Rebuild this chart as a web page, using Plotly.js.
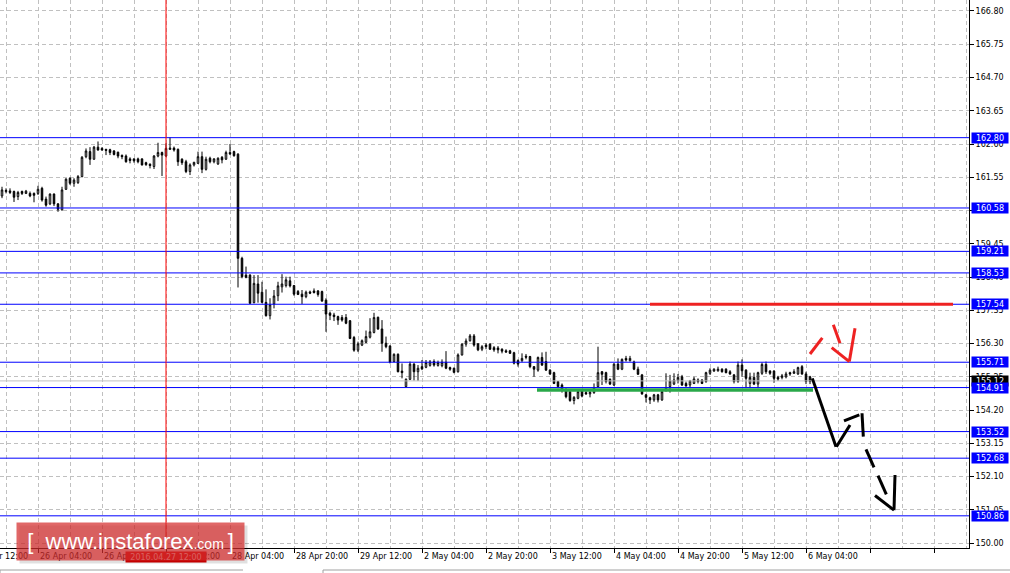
<!DOCTYPE html>
<html>
<head>
<meta charset="utf-8">
<script src="https://cdn.plot.ly/plotly-3.0.1.min.js"></script>
<style>html,body{margin:0;padding:0;background:#fff;}#chart{width:1010px;height:573px;}</style>
</head>
<body>
<div id="chart"></div>
<script>
// Hourly bars; bar offset is counted in hours from the "26 Apr 04:00" tick (weekend skipped)
const firstBar = -9;
const open = [160.96,161.10,161.12,161.10,160.94,161.10,161.04,161.04,161.04,161.04,
161.20,160.86,160.71,161.02,160.71,160.52,161.17,161.52,161.36,161.38,
161.57,162.20,162.36,162.12,162.50,162.46,162.43,162.42,162.38,162.34,
162.24,162.22,162.13,162.13,162.13,162.13,162.01,161.96,161.89,162.22,
162.33,162.22,162.43,162.47,162.43,162.12,162.04,161.73,161.94,161.99,
162.20,161.80,162.15,162.04,161.97,162.18,162.12,162.33,162.36,162.28,
158.99,158.46,158.46,157.59,158.18,157.92,157.60,157.18,157.55,157.81,
158.09,158.13,158.28,158.13,157.94,157.86,157.78,157.93,157.96,157.96,
157.94,157.67,157.26,157.20,157.15,157.12,157.12,157.02,156.49,156.09,
156.25,156.34,156.50,156.65,157.13,156.76,156.31,156.22,155.73,155.96,
155.43,154.94,155.17,155.65,155.41,155.57,155.55,155.61,155.73,155.61,
155.60,155.71,155.54,155.52,155.41,155.94,156.28,156.39,156.54,156.29,
156.12,156.25,156.28,156.17,156.16,156.12,156.07,156.07,156.01,155.76,
155.76,155.90,155.89,155.57,155.46,155.86,155.73,155.46,155.38,155.10,
154.99,154.85,154.78,154.50,154.57,154.80,154.75,154.71,154.75,154.94,
155.41,155.38,155.17,154.99,155.65,155.49,155.83,155.76,155.72,155.49,
155.31,154.68,154.59,154.52,154.68,154.52,154.83,154.94,155.02,155.13,
155.25,155.04,154.99,155.04,155.15,155.15,155.10,155.36,155.43,155.44,
155.49,155.49,155.41,155.31,155.10,155.62,155.46,155.04,155.23,155.02,
155.36,155.64,155.43,155.43,155.23,155.23,155.25,155.38,155.36,155.34,
155.57,155.34,155.25];
const high = [161.25,161.20,161.20,161.13,161.12,161.13,161.15,161.10,161.07,161.28,
161.25,160.94,161.04,161.04,160.73,161.25,161.52,161.55,161.52,161.62,
162.22,162.46,162.50,162.54,162.68,162.50,162.45,162.45,162.41,162.36,
162.27,162.27,162.18,162.15,162.17,162.15,162.04,161.99,162.25,162.64,
162.36,162.62,162.81,162.52,162.46,162.15,162.10,161.99,162.04,162.36,
162.36,162.20,162.20,162.15,162.18,162.22,162.39,162.60,162.39,162.31,
159.04,158.73,158.49,158.46,158.46,158.25,158.01,157.73,157.99,158.25,
158.49,158.41,158.41,158.15,157.99,157.99,157.97,157.97,158.04,157.99,
157.97,157.73,157.31,157.27,157.18,157.20,157.23,157.04,156.54,156.36,
156.43,156.71,157.10,157.27,157.15,157.04,156.52,156.25,155.99,155.99,
155.67,155.20,155.73,155.68,155.62,155.78,155.78,155.78,155.80,155.76,
155.80,156.06,155.57,155.54,155.99,156.31,156.46,156.60,156.60,156.31,
156.25,156.31,156.31,156.22,156.22,156.15,156.12,156.10,156.04,155.80,
155.99,155.97,155.91,155.59,155.89,156.02,156.04,155.49,155.41,155.12,
155.04,154.89,154.80,154.64,154.81,154.83,154.81,154.83,155.04,156.20,
155.43,155.41,155.20,155.68,155.83,155.83,155.91,155.91,155.76,155.57,
155.34,154.71,154.62,154.71,154.71,154.81,155.36,155.31,155.36,155.34,
155.31,155.10,155.15,155.25,155.20,155.17,155.41,155.52,155.52,155.57,
155.52,155.52,155.46,155.34,155.73,155.80,155.49,155.38,155.38,155.41,
155.70,155.73,155.46,155.46,155.28,155.34,155.41,155.41,155.49,155.57,
155.62,155.41,155.28];
const low = [160.89,161.04,161.02,160.77,160.83,160.99,161.02,160.92,160.76,160.99,
160.78,160.62,160.67,160.64,160.46,160.50,161.15,161.31,161.25,161.34,
161.55,162.15,161.94,162.10,162.39,162.39,162.25,162.25,162.24,162.15,
162.12,162.01,161.99,162.01,161.99,161.92,161.91,161.83,161.81,162.18,
161.59,162.20,162.41,162.36,161.91,161.94,161.68,161.62,161.89,161.97,
161.68,161.76,161.99,161.99,161.94,161.99,162.10,162.25,162.20,158.07,
158.36,158.36,157.55,157.57,157.59,157.57,157.15,157.06,157.41,157.64,
157.91,158.07,158.07,157.81,157.83,157.55,157.73,157.86,157.88,157.78,
157.62,156.67,157.04,157.01,156.89,156.99,156.91,156.44,156.04,156.03,
156.22,156.31,156.46,156.62,156.73,156.04,156.15,155.67,155.71,155.39,
155.20,154.92,155.15,155.13,155.12,155.46,155.52,155.57,155.57,155.57,
155.55,155.49,155.44,155.36,155.38,155.92,156.20,156.36,156.20,156.06,
156.06,156.12,156.10,156.04,155.99,155.99,156.01,155.97,155.64,155.57,
155.71,155.80,155.52,155.25,155.41,155.59,155.44,155.31,155.02,154.89,
154.75,154.57,154.46,154.38,154.54,154.60,154.68,154.60,154.71,154.92,
154.99,155.04,154.99,154.96,155.46,155.46,155.73,155.73,155.46,155.31,
154.68,154.44,154.39,154.46,154.44,154.49,154.78,154.75,154.99,155.04,
154.96,154.94,154.89,155.02,155.04,155.02,155.06,155.31,155.41,155.41,
155.38,155.36,155.31,155.04,155.06,155.25,154.89,154.89,154.99,154.89,
155.31,155.34,155.31,155.06,155.12,155.17,155.20,155.28,155.34,155.31,
155.31,155.02,155.02];
const close = [161.15,161.13,161.07,160.92,161.07,161.04,161.11,160.96,160.98,161.17,
160.83,160.67,161.02,160.71,160.54,161.15,161.49,161.36,161.46,161.57,
162.18,162.38,162.12,162.50,162.41,162.41,162.40,162.33,162.27,162.22,
162.20,162.04,162.08,162.07,162.04,161.94,161.95,161.92,162.22,162.33,
162.25,162.46,162.47,162.41,162.04,162.01,161.73,161.94,162.02,162.20,
161.80,162.12,162.04,162.13,162.15,162.10,162.33,162.29,162.23,158.99,
158.41,158.39,157.57,158.20,157.89,157.60,157.18,157.52,157.80,158.12,
158.18,158.31,158.12,157.86,157.85,157.78,157.92,157.89,157.91,157.85,
157.64,157.23,157.19,157.15,157.04,157.04,156.94,156.46,156.09,156.29,
156.39,156.52,156.67,157.12,156.76,156.31,156.20,155.71,155.96,155.41,
155.38,155.17,155.65,155.41,155.52,155.50,155.70,155.72,155.62,155.70,
155.71,155.52,155.49,155.39,155.94,156.28,156.38,156.54,156.25,156.10,
156.20,156.20,156.12,156.10,156.10,156.06,156.03,155.99,155.68,155.65,
155.83,155.87,155.57,155.49,155.86,155.62,155.46,155.34,155.04,154.94,
154.83,154.62,154.50,154.60,154.78,154.64,154.71,154.76,154.89,155.38,
155.33,155.10,155.02,155.65,155.49,155.80,155.78,155.83,155.49,155.33,
154.71,154.60,154.52,154.68,154.52,154.78,154.89,155.12,155.15,155.23,
154.99,154.96,155.12,155.18,155.10,155.04,155.38,155.46,155.49,155.49,
155.41,155.38,155.34,155.10,155.62,155.44,155.20,155.23,155.02,155.38,
155.64,155.41,155.36,155.20,155.18,155.28,155.34,155.34,155.41,155.54,
155.34,155.10,155.10];

// time axis labels (bar offsets and texts)
const xTickPos = [-16,0,16,32,48,64,80,96,112,128,144,160,176,192];
const xTickLabels = ['25 Apr 12:00','26 Apr 04:00','26 Apr 20:00','27 Apr 12:00','28 Apr 04:00','28 Apr 20:00',
  '29 Apr 12:00','2 May 04:00','2 May 20:00','3 May 12:00','4 May 04:00','4 May 20:00','5 May 12:00','6 May 04:00'];
// price axis labels
const yTicks = [166.80,165.75,164.70,163.65,162.60,161.55,160.50,159.45,158.40,157.35,156.30,155.25,154.20,153.15,152.10,151.05,150.00];
// horizontal levels
const levels = [162.80,160.58,159.21,158.53,157.54,155.71,154.91,153.52,152.68,150.86];
const currentPrice = 155.12;
const markedBar = 32; const markedLabel = '2016.04.27 12:00';
const resistance = {from: 153, to: 228.75, price: 157.54};
const support = {from: 124.75, to: 193.75, price: 154.83};
// hand-drawn strokes, [bar offset, price]
const blackStrokes = [
  [[193.58,155.20],[199.5,153.04]], [[199.6,153.04],[203,153.73]],
  [[201.5,153.86],[205.33,154.05]], [[206,154.10],[206.33,153.36]],
  [[207,152.96],[209,152.39]], [[210,152.13],[212.08,151.54]],
  [[209.25,151.50],[214,151.04]], [[214,151.04],[214.25,152.15]]
];
const redStrokes = [
  [[193,155.97],[196.08,156.48]], [[198.83,156.89],[200.5,156.31]],
  [[198.42,156.17],[202.83,155.73]], [[202.83,155.73],[204.25,156.78]]
];

const xRange = [-9.5, 232.75];
const yRange = [149.844, 167.147];
const FONT = 'DejaVu Sans';
const GRID = '#c0c0c0';

const xs = open.map((_, i) => i + firstBar);

const trace = {
  type: 'candlestick', x: xs, open: open, high: high, low: low, close: close,
  whiskerwidth: 0,
  increasing: {line: {color: '#000', width: 1}, fillcolor: '#fff'},
  decreasing: {line: {color: '#000', width: 1}, fillcolor: '#000'},
  hoverinfo: 'skip', showlegend: false
};

const shapes = [];
levels.forEach(v => shapes.push({type:'line', xref:'x domain', x0:0, x1:1, yref:'y', y0:v, y1:v,
  line:{color:'#0000ff', width:1}, layer:'above'}));
shapes.push({type:'line', xref:'x domain', x0:0, x1:1, yref:'y', y0:currentPrice, y1:currentPrice,
  line:{color:'#c0c0c0', width:1}, layer:'above'});
shapes.push({type:'line', xref:'x', x0:markedBar, x1:markedBar, yref:'y domain', y0:0, y1:1,
  line:{color:'#ff0000', width:1}, layer:'above'});
shapes.push({type:'line', xref:'x', x0:resistance.from, x1:resistance.to, yref:'y', y0:resistance.price, y1:resistance.price,
  line:{color:'#ee2222', width:3}, layer:'above'});
shapes.push({type:'line', xref:'x', x0:support.from, x1:support.to, yref:'y', y0:support.price, y1:support.price,
  line:{color:'#2aa84a', width:3.5}, layer:'above'});
blackStrokes.forEach(s => shapes.push({type:'line', xref:'x', yref:'y', x0:s[0][0], y0:s[0][1], x1:s[1][0], y1:s[1][1],
  line:{color:'#000', width:3}, layer:'above'}));
redStrokes.forEach(s => shapes.push({type:'line', xref:'x', yref:'y', x0:s[0][0], y0:s[0][1], x1:s[1][0], y1:s[1][1],
  line:{color:'#ee2222', width:3}, layer:'above'}));
// bottom panel borders
const H = 548;
const py = p => (H - p) / H;
const W = 969;
[[0,243],[323,1010]].forEach(r => {
  shapes.push({type:'line', xref:'paper', yref:'paper', x0:r[0]/W, x1:r[1]/W, y0:py(570), y1:py(570), line:{color:'#a0a0a0', width:1}});
  shapes.push({type:'line', xref:'paper', yref:'paper', x0:r[0]/W, x1:r[0]/W, y0:py(570), y1:py(574), line:{color:'#a0a0a0', width:1}});
});

const annotations = [];
const frac = k => (k - xRange[0]) / (xRange[1] - xRange[0]);
xTickPos.forEach((k, i) => annotations.push({xref:'paper', x:frac(k), xanchor:'left', xshift:1,
  yref:'paper', y:py(556), yanchor:'middle', text:xTickLabels[i], showarrow:false, borderpad:0,
  font:{family:FONT, size:8, color:'#000'}}));
annotations.push({xref:'paper', x:1, xanchor:'left', xshift:2, yref:'y', y:currentPrice, yanchor:'middle',
  text:currentPrice.toFixed(2), showarrow:false, bgcolor:'#000', width:36, height:10, borderpad:0,
  font:{family:FONT, size:8, color:'#fff'}});
levels.forEach(v => annotations.push({xref:'paper', x:1, xanchor:'left', xshift:2, yref:'y', y:v, yanchor:'middle',
  text:v.toFixed(2), showarrow:false, bgcolor:'#0000ff', width:36, height:10, borderpad:0,
  font:{family:FONT, size:8, color:'#fff'}}));
annotations.push({xref:'x', x:markedBar, xanchor:'center', yref:'paper', y:py(557), yanchor:'middle',
  text:markedLabel, showarrow:false, bgcolor:'#e00000', width:80, height:10, borderpad:0,
  font:{family:FONT, size:8, color:'#fff'}});
// watermark
annotations.push({xref:'paper', x:133.5/W, xanchor:'center', yref:'paper', y:py(544.5), yanchor:'middle',
  text:'', showarrow:false, bgcolor:'rgba(0,0,0,0.12)', width:227, height:37, borderpad:0});
annotations.push({xref:'paper', x:130.5/W, xanchor:'center', yref:'paper', y:py(541.5), yanchor:'middle',
  text:'[&nbsp;&nbsp;www.instaforex<span style="font-size:14px">.com&nbsp;</span>]', showarrow:false,
  bgcolor:'rgba(212,45,45,0.72)', width:227, height:37, borderpad:0,
  font:{family:'Liberation Sans', size:22, color:'#fff'}});

const layout = {
  width: 1010, height: 573,
  margin: {l:0, r:41, t:0, b:25, pad:0},
  paper_bgcolor:'#fff', plot_bgcolor:'#fff',
  showlegend:false, boxgap:0.45,
  xaxis: {range:xRange, type:'linear', tickmode:'linear', tick0:0, dtick:16, ticks:'outside', ticklen:4,
    tickcolor:'#000', showticklabels:false, showgrid:true, gridcolor:GRID, griddash:'4px,3px', gridwidth:1,
    minor:{tick0:0, dtick:8, showgrid:true, gridcolor:GRID, griddash:'4px,3px', gridwidth:1, ticks:''},
    showline:true, linecolor:'#000', linewidth:1, zeroline:false, rangeslider:{visible:false}, fixedrange:true},
  yaxis: {range:yRange, side:'right', tickmode:'array', tickvals:yTicks, ticktext:yTicks.map(v => v.toFixed(2)),
    ticks:'outside', ticklen:4, tickcolor:'#000', tickfont:{family:FONT, size:8, color:'#000'},
    showgrid:true, gridcolor:GRID, griddash:'4px,3px', gridwidth:1, showline:true, linecolor:'#000', linewidth:1,
    zeroline:false, fixedrange:true},
  shapes: shapes, annotations: annotations
};

Plotly.newPlot('chart', [trace], layout, {staticPlot:true, displayModeBar:false});
</script>
</body>
</html>
